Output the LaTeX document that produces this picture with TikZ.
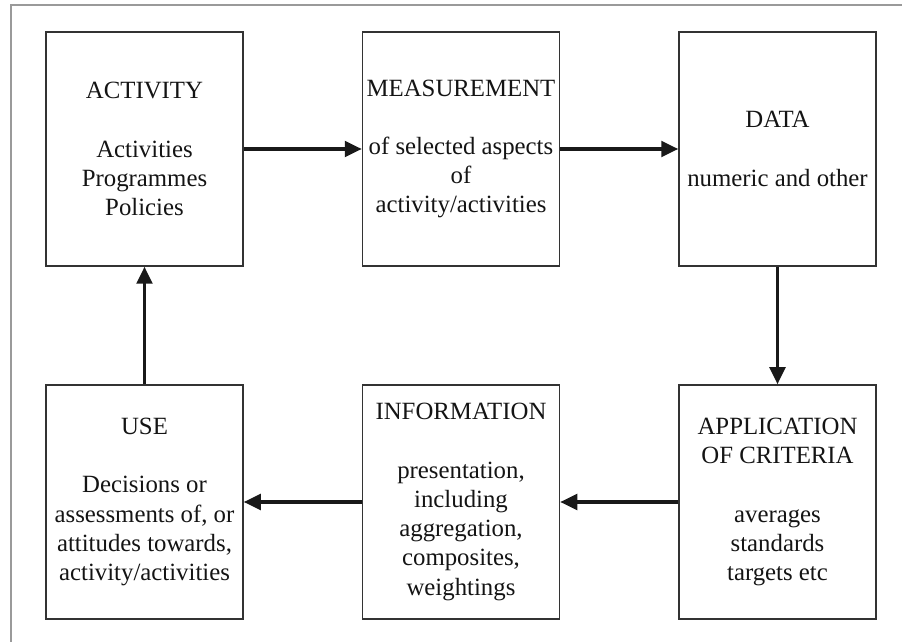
\documentclass[tikz,border=0pt]{standalone}
\usepackage{fontspec}
\setmainfont{Liberation Serif}
\usetikzlibrary{arrows.meta}
\definecolor{boxline}{HTML}{333333}
\definecolor{frameline}{HTML}{9A9A9A}
\definecolor{ink}{HTML}{141414}
\tikzset{
  stagebox/.style={draw=boxline, line width=0.75pt, rectangle, inner sep=0pt,
    minimum width=98.5pt, minimum height=117pt, align=center, text=ink,
    font=\fontsize{12.4pt}{14.6pt}\selectfont},
  flow/.style={line width=1.6pt, draw=black!90,
    -{Triangle[length=8.5pt,width=7.8pt]}}
}
\begin{document}
\begin{tikzpicture}[x=0.5pt, y=-0.5pt]
  \useasboundingbox (0,0) rectangle (902,642);
  % outer frame (top and left edges)
  \draw[frameline, line width=1pt] (11,642) -- (11,5.5) -- (902,5.5);

  % top row
  \node[stagebox] (activity) at (144.5,149) {ACTIVITY\\[14.6pt]Activities\\Programmes\\Policies};
  \node[stagebox] (measure) at (461,149) {MEASUREMENT\\[14.6pt]of selected aspects\\of\\activity/activities};
  \node[stagebox] (data) at (777.5,149) {DATA\\[14.6pt]numeric and other};

  % bottom row
  \node[stagebox] (use) at (144.5,502) {USE\\[14.6pt]Decisions or\\assessments of, or\\attitudes towards,\\activity/activities};
  \node[stagebox] (info) at (461,502) {INFORMATION\\[14.6pt]presentation,\\including\\aggregation,\\composites,\\weightings};
  \node[stagebox] (criteria) at (777.5,502) {APPLICATION\\OF CRITERIA\\[14.6pt]averages\\standards\\targets etc};

  % cycle of connectors
  \draw[flow] (activity) -- (measure);
  \draw[flow] (measure) -- (data);
  \draw[flow] (data) -- (criteria);
  \draw[flow] (criteria) -- (info);
  \draw[flow] (info) -- (use);
  \draw[flow] (use) -- (activity);
\end{tikzpicture}
\end{document}
